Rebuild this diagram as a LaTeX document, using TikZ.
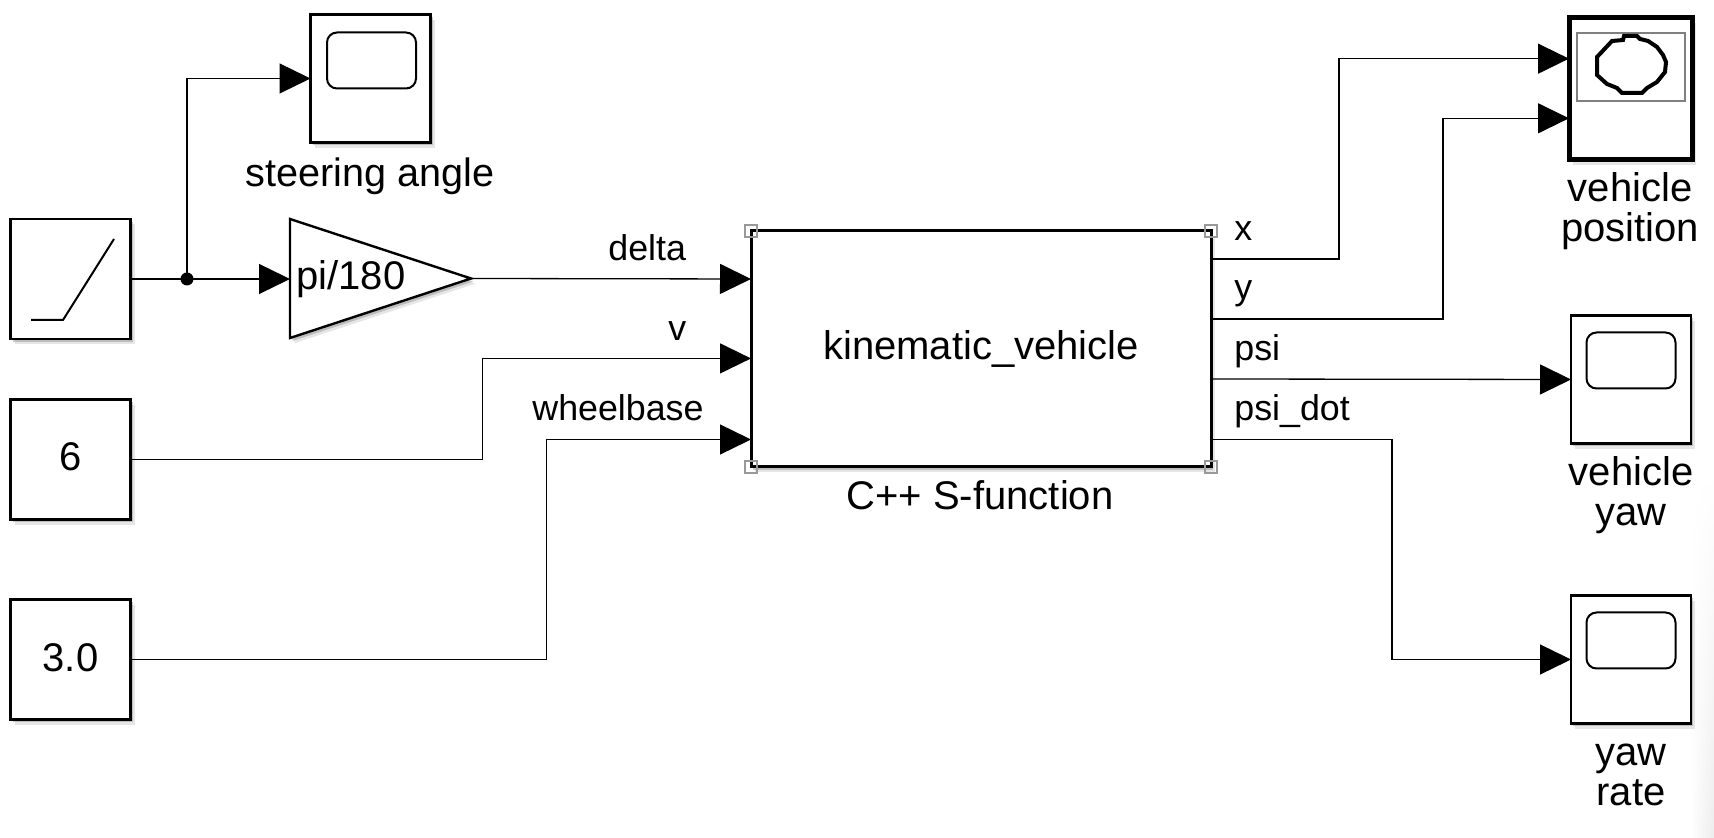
\documentclass[tikz,border=0pt]{standalone}
\usepackage{fontspec}
\setmainfont{Liberation Sans}
\usetikzlibrary{calc,arrows.meta,shadows,shapes.geometric,fadings}
\newcommand{\sizedtext}[2]{\fontsize{#1}{20pt}\selectfont #2}
\tikzset{
  softshadow/.style={drop shadow={shadow xshift=2.2pt,shadow yshift=-2.6pt,opacity=.2},
    drop shadow={shadow xshift=1.2pt,shadow yshift=-1.5pt,opacity=.4}},
  block/.style={draw,fill=white,line width=1.2pt,minimum width=60pt,minimum height=60pt,inner sep=0pt,outer sep=0pt,softshadow},
  scopeblock/.style={block,minimum height=64pt},
  screen/.style={draw,line width=1pt,rounded corners=5pt,minimum width=44.5pt,minimum height=28pt,inner sep=0pt,outer sep=0pt},
  wire/.style={draw,line width=.65pt},
  signal/.style={wire,-{Triangle[length=15.5pt,width=15pt]}},
  caption/.style={inner sep=0pt,align=center,anchor=base,font=\sizedtext{20pt}{}},
  portname/.style={inner sep=0pt,anchor=base west,font=\sizedtext{17.9pt}{}},
  handle/.style={draw=black!40,line width=.7pt,minimum size=6pt,inner sep=0pt}
}
\begin{document}
\begin{tikzpicture}[x=.5pt,y=-.5pt]
  \useasboundingbox (0,0) rectangle (1714,838);
  \shade[left color=white,right color=black!7,path fading=north] (1690,470) rectangle (1714,838);
  \node[block] (ramp) at (70.5,279) {};
  \draw[line width=1pt] ($(ramp.center)+(-39.5,41)$) -- ++(32,0) -- ($(ramp.center)+(43.5,-40)$);
  \node[block,font=\sizedtext{20pt}{}] (constV) at (70.5,459.5) {\raisebox{2.8pt}{6}};
  \node[block,font=\sizedtext{20pt}{}] (constL) at (70.5,659.5) {\raisebox{2.4pt}{3.0}};
  \node[block,anchor=west,isosceles triangle,isosceles triangle stretches,shape border rotate=0,minimum width=59.5pt,minimum height=90.5pt] (gain) at (290,278.5) {};
  \node[inner sep=0pt,anchor=base west,font=\sizedtext{20pt}{}] (gaintext) at (296,290) {pi/180};
  \node[scopeblock] (steer) at (370.5,78.5) {};
  \node[screen] (steerscreen) at (371.5,60.5) {};
  \node[scopeblock,line width=2.5pt,minimum width=61.5pt,minimum height=71pt] (pos) at (1630.5,88.5) {};
  \node[draw=black!50,line width=.7pt,minimum width=54pt,minimum height=34pt,inner sep=0pt] (posscreen) at (1631,67) {};
  \draw[line width=2pt] (1624,36) -- (1637,36) -- (1640,39) -- (1648,41) -- (1657,47) -- (1663,55) -- (1666,62) -- (1665,72) -- (1657,82) -- (1647,88) -- (1642,93) -- (1622,93) -- (1617,88) -- (1607,84) -- (1597,75) -- (1597,57) -- (1612,41) -- (1623,40) -- cycle;
  \node[scopeblock] (yaw) at (1631,379.5) {};
  \node[screen] (yawscreen) at (1631,360.5) {};
  \node[scopeblock] (rate) at (1631,659.5) {};
  \node[screen] (ratescreen) at (1631,640.5) {};
  \node[block,line width=1.5pt,minimum width=230pt,minimum height=118pt,font=\sizedtext{20pt}{}] (kin) at (981,349) {kinematic\_vehicle};
  \foreach \c in {north west,north east,south west,south east}
    \node[handle] at (kin.\c) {};
  \coordinate (kinD) at ($(kin.north west)!.2034!(kin.south west)$);
  \coordinate (kinV) at ($(kin.north west)!.54!(kin.south west)$);
  \coordinate (kinL) at ($(kin.north west)!.8835!(kin.south west)$);
  \coordinate (kinX) at ($(kin.north east)!.1186!(kin.south east)$);
  \coordinate (kinY) at ($(kin.north east)!.3729!(kin.south east)$);
  \coordinate (kinP) at ($(kin.north east)!.6271!(kin.south east)$);
  \coordinate (kinR) at ($(kin.north east)!.8835!(kin.south east)$);
  \coordinate (posX) at ($(pos.north west)!.29!(pos.south west)$);
  \coordinate (posY) at ($(pos.north west)!.71!(pos.south west)$);
  \fill ($(ramp.east)+(56.5,0)$) circle (6.5) coordinate (branch);
  \path[wire] (ramp.east) -- (branch);
  \path[signal] (branch) -- (gain.west |- branch);
  \path[signal] (branch) |- (steer.west);
  \path[signal] (gain.apex) -- (kinD);
  \path[signal] (constV.east) -- ++(352,0) |- (kinV);
  \path[signal] (constL.east) -- ++(416,0) |- (kinL);
  \path[signal] (kinX) -- ++(128,0) |- (posX);
  \path[signal] (kinY) -- ++(232,0) |- (posY);
  \path[signal] (kinP) -- (yaw.west);
  \path[signal] (kinR) -- ++(181,0) |- (rate.west);
  \node[portname] (dLabel) at (608,260.5) {delta};
  \node[portname] (vLabel) at (668,340.5) {v};
  \node[portname] (lLabel) at (532,420.5) {wheelbase};
  \node[portname] (xLabel) at (1234,241) {x};
  \node[portname] (yLabel) at (1234,300) {y};
  \node[portname] (pLabel) at (1234,360.5) {psi};
  \node[portname] (rLabel) at (1234,420.5) {psi\_dot};
  \node[caption,font=\sizedtext{19.8pt}{}] (steerName) at (370,186.5) {steering angle};
  \node[caption] (kinName) at (980,509.5) {C++ S-function};
  \node[caption] (posName) at (1630,202) {vehicle};
  \node[caption] (posName2) at (1630,241.5) {position};
  \node[caption] (yawName) at (1631,486) {vehicle};
  \node[caption] (yawName2) at (1631,526) {yaw};
  \node[caption] (rateName) at (1631,766) {yaw};
  \node[caption] (rateName2) at (1631,806) {rate};
\end{tikzpicture}
\end{document}
